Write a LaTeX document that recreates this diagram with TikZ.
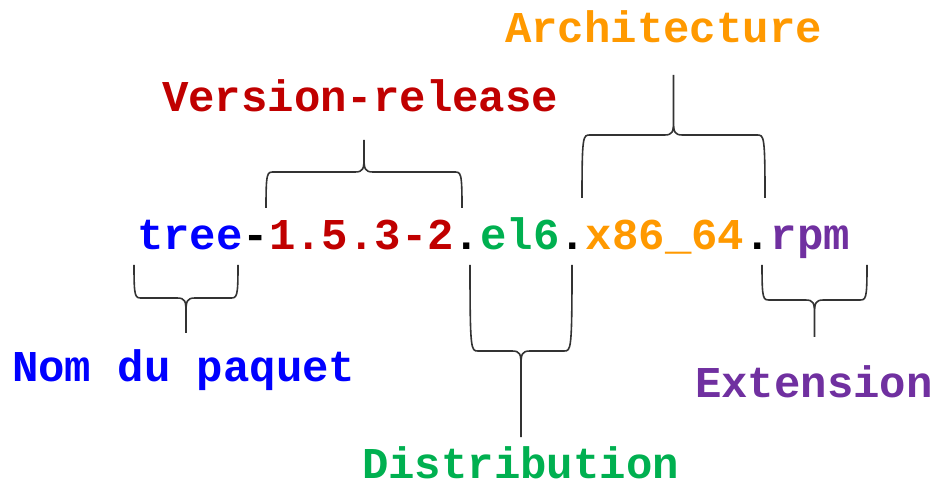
\documentclass[tikz,border=0pt]{standalone}
\usepackage{fontspec}
\setmonofont{Liberation Mono}
\usepackage{tikz}
\usetikzlibrary{
  positioning,  % Function "of" (e.g. [right=of x])
  calc,         % Calculations $...$
}
\definecolor{pkgblue}{HTML}{0000FF}
\definecolor{pkgred}{HTML}{C00000}
\definecolor{pkggreen}{HTML}{00B050}
\definecolor{pkgorange}{HTML}{FF9900}
\definecolor{pkgpurple}{HTML}{7030A0}
% Brace: x1, x2, y of the ends, y of the flat part, y of the tip
\newcommand{\partbrace}[5]{%
  \pgfmathsetmacro\bxm{(#1+#2)/2}%
  \pgfmathsetmacro\bs{sign(#5-#4)}%
  \pgfmathsetmacro\bya{#4+3*\bs}%
  \pgfmathsetmacro\byb{#4+14*\bs}%
  \draw[brace line]
    (#1,#3) .. controls (#1,#4) and (#1+1,#4) .. (#1+8,#4)
    -- (\bxm-9,#4) .. controls (\bxm-1,#4) and (\bxm,\bya) .. (\bxm,\byb)
    -- (\bxm,#5)
    (\bxm,\byb) .. controls (\bxm,\bya) and (\bxm+1,#4) .. (\bxm+9,#4)
    -- (#2-8,#4) .. controls (#2-1,#4) and (#2,#4) .. (#2,#3);
}
\tikzset{
  x=0.5pt,
  y=-0.5pt,
  seg/.style={
    inner sep=0pt,
    outer sep=0pt,
    anchor=base west,
    font=\fontsize{22}{26}\selectfont\ttfamily\bfseries
  },
  lbl/.style={
    seg
  },
  brace line/.style={
    draw=black!80,
    line width=0.8pt,
    line join=round
  }
}
\begin{document}
\begin{tikzpicture}
\useasboundingbox (0,0) rectangle (935,485);
% file name, piece by piece
\node[seg,text=pkgblue]   (name) at (137,250)          {tree};
\node[seg]                (d1)   at (name.base east)   {-};
\node[seg,text=pkgred]    (ver)  at (d1.base east)     {1.5.3-2};
\node[seg]                (d2)   at (ver.base east)    {.};
\node[seg,text=pkggreen]  (dist) at (d2.base east)     {el6};
\node[seg]                (d3)   at (dist.base east)   {.};
\node[seg,text=pkgorange] (arch) at (d3.base east)     {x86\_64};
\node[seg]                (d4)   at (arch.base east)   {.};
\node[seg,text=pkgpurple] (ext)  at (d4.base east)     {rpm};
% labels
\node[lbl,text=pkgorange] (archlbl) at (505,43)  {Architecture};
\node[lbl,text=pkgred]    (verlbl)  at (162,112) {Version-release};
\node[lbl,text=pkgblue]   (namelbl) at (12,382)  {Nom du paquet};
\node[lbl,text=pkggreen]  (distlbl) at (362,478) {Distribution};
\node[lbl,text=pkgpurple] (extlbl)  at (695,397) {Extension};
% braces
\partbrace{266}{462}{208}{172}{140}
\partbrace{582}{765}{198}{135}{75}
\partbrace{134}{238}{265}{298}{333}
\partbrace{470}{572}{265}{351}{437}
\partbrace{762}{867}{265}{300}{337}
\end{tikzpicture}
\end{document}
